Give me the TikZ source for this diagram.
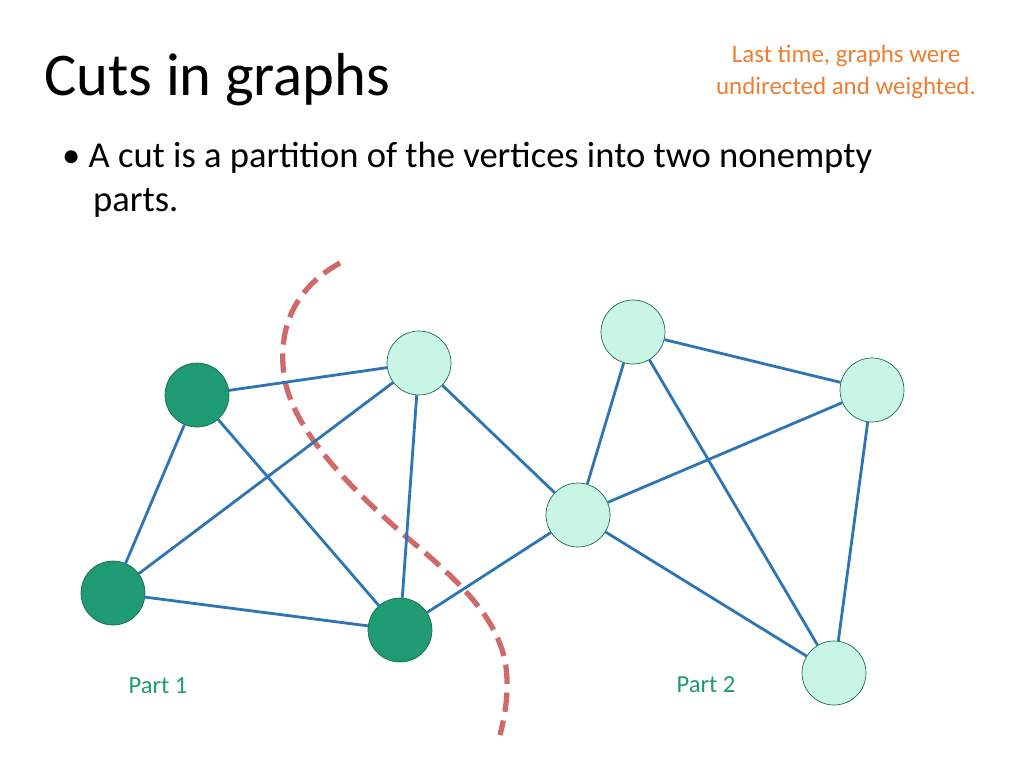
\documentclass[tikz,border=0pt]{standalone}
\usepackage{fontspec}
\setmainfont{Carlito}
\usepackage{tikz}
\definecolor{edgeblue}{HTML}{2E75B6}
\definecolor{darkv}{HTML}{1E9B72}
\definecolor{lightv}{HTML}{C8F5E6}
\definecolor{vborder}{HTML}{1B6B4E}
\definecolor{cutred}{HTML}{D06A6A}
\definecolor{noteorange}{HTML}{ED7D31}
\tikzset{
  dark/.style={circle, draw=vborder, fill=darkv, minimum size=1.28cm, inner sep=0pt},
  light/.style={circle, draw=vborder, fill=lightv, minimum size=1.28cm, inner sep=0pt},
  edge/.style={edgeblue, line width=1.6pt}
}
\begin{document}
\begin{tikzpicture}[x=0.02cm, y=-0.02cm]
            \useasboundingbox (0,0) rectangle (1024,768);
            \node[anchor=base west, font=\fontsize{34.5}{40}\selectfont] (title) at (38,95) {Cuts in graphs};
            \node[align=center, text=noteorange, font=\fontsize{14.2}{18}\selectfont] (note) at (846,72) {Last time, graphs were\\undirected and weighted.};
            \node[anchor=north west, align=left, font=\fontsize{20.8}{25}\selectfont] (bullet) at (56,136) {\textbullet\ A cut is a partition of the vertices into two nonempty\\\hspace*{0.62cm}parts.};
            \draw[cutred, line width=3pt, dash pattern=on 11pt off 5pt] (340,263) .. controls (300,285) and (280,320) .. (283,365) .. controls (285,420) and (340,480) .. (410,540) .. controls (470,590) and (495,620) .. (505,660) .. controls (510,690) and (505,715) .. (500,735);
            \node[dark] (a) at (197,395) {};
            \node[light] (b) at (419,363) {};
            \node[dark] (c) at (113,593) {};
            \node[dark] (d) at (400,630) {};
            \node[light] (e) at (578,515) {};
            \node[light] (f) at (633,332) {};
            \node[light] (g) at (872,390) {};
            \node[light] (h) at (834,673) {};
            \draw[edge] (a) -- (b);
            \draw[edge] (a) -- (c);
            \draw[edge] (a) -- (d);
            \draw[edge] (b) -- (c);
            \draw[edge] (b) -- (d);
            \draw[edge] (b) -- (e);
            \draw[edge] (c) -- (d);
            \draw[edge] (d) -- (e);
            \draw[edge] (e) -- (f);
            \draw[edge] (e) -- (g);
            \draw[edge] (e) -- (h);
            \draw[edge] (f) -- (g);
            \draw[edge] (f) -- (h);
            \draw[edge] (g) -- (h);
            \node[text=darkv, font=\fontsize{14}{17}\selectfont] (part1) at (158,686) {Part 1};
            \node[text=darkv, font=\fontsize{14}{17}\selectfont] (part2) at (706,685) {Part 2};
        \end{tikzpicture}
\end{document}
